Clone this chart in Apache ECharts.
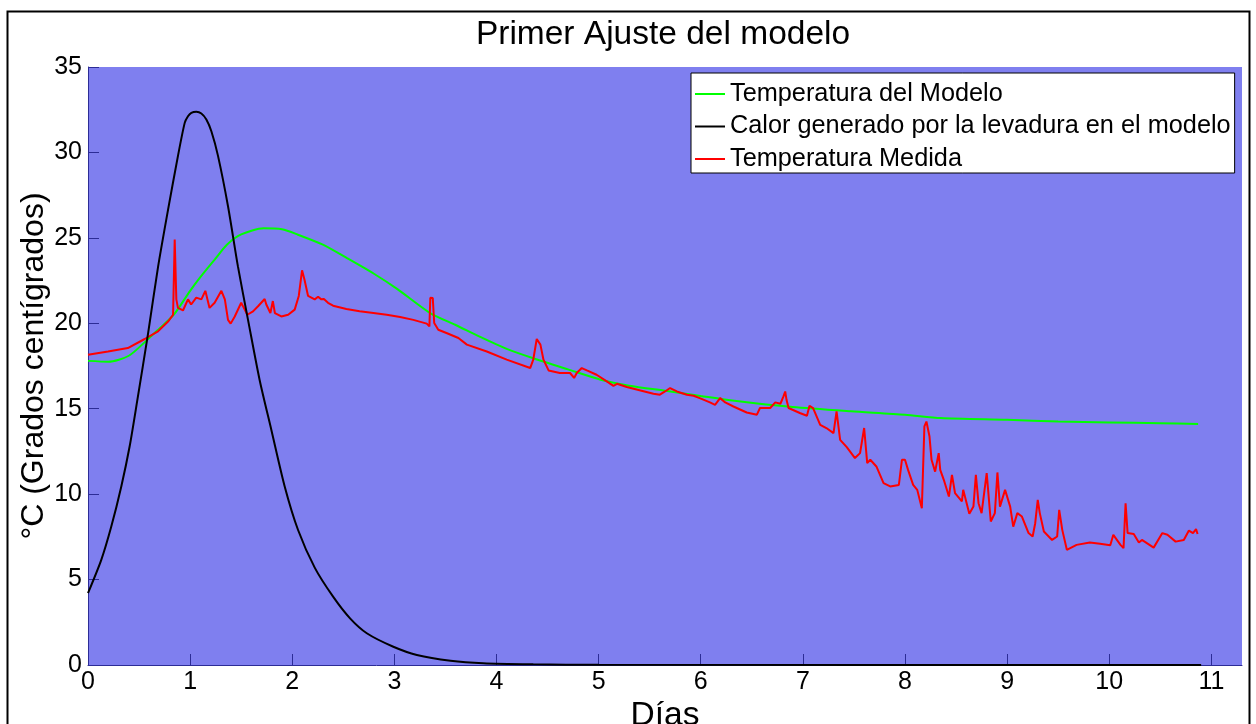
<!DOCTYPE html>
<html>
<head>
<meta charset="utf-8">
<script src="https://cdn.jsdelivr.net/npm/echarts@6/dist/echarts.min.js"></script>
<style>
html,body{margin:0;padding:0;background:#fff;}
#chart{width:1256px;height:724px;}
</style>
</head>
<body>
<div id="chart"></div>
<script>
// ---- data ----
const xTicks = [0,1,2,3,4,5,6,7,8,9,10,11];
const yTicks = [0,5,10,15,20,25,30,35];

const greenDays = [0,0.2,0.4,0.575,0.7,0.84,1.0,1.1,1.25,1.36,1.5,1.72,1.9,2.05,2.3,2.54,2.8,3.03,3.35,3.6,3.84,4.1,4.36,4.7,5.02,5.3,5.67,6.0,6.33,6.9,7.47,8.0,8.35,9.0,9.5,10.0,10.5,10.87];
const greenTemp = [17.8,17.75,18.1,19.0,19.7,20.5,21.9,22.7,23.8,24.6,25.2,25.56,25.5,25.2,24.6,23.8,22.9,22.0,20.6,19.9,19.2,18.5,17.95,17.3,16.7,16.35,16.04,15.75,15.47,15.1,14.85,14.65,14.45,14.35,14.25,14.2,14.15,14.1];

const blackDays = [0,0.13,0.228,0.326,0.408,0.483,0.588,0.686,0.784,0.881,0.947,0.979,1.012,1.061,1.11,1.159,1.208,1.273,1.371,1.469,1.567,1.68,1.795,1.926,2.057,2.22,2.40,2.566,2.73,2.99,3.22,3.55,3.87,4.36,5.0,10.9];
const blackHeat = [4.2,6.15,8.1,10.45,12.8,15.5,19.4,23.3,26.65,29.8,31.73,32.12,32.32,32.38,32.28,31.93,31.24,29.8,26.85,23.3,20.2,16.7,13.77,10.45,7.9,5.7,4.0,2.73,1.86,1.07,0.59,0.25,0.1,0.04,0.01,0];

const redDays = [0,0.196,0.39,0.555,0.686,0.784,0.833,0.845,0.849,0.857,0.865,0.881,0.93,0.979,1.01,1.06,1.11,1.149,1.19,1.24,1.306,1.34,1.371,1.397,1.437,1.50,1.535,1.56,1.616,1.665,1.73,1.746,1.786,1.81,1.83,1.893,1.96,2.024,2.064,2.096,2.12,2.155,2.22,2.253,2.285,2.31,2.35,2.40,2.53,2.66,2.795,2.925,3.056,3.186,3.317,3.343,3.352,3.376,3.39,3.43,3.51,3.627,3.71,3.905,4.10,4.33,4.36,4.394,4.43,4.46,4.51,4.62,4.72,4.76,4.786,4.835,4.885,4.98,5.08,5.145,5.18,5.276,5.41,5.537,5.60,5.65,5.70,5.766,5.864,5.93,5.99,6.09,6.14,6.19,6.24,6.32,6.45,6.55,6.58,6.68,6.73,6.78,6.81,6.827,6.84,6.86,6.97,7.04,7.065,7.10,7.17,7.23,7.30,7.33,7.365,7.43,7.51,7.56,7.60,7.63,7.66,7.72,7.79,7.855,7.94,7.97,8.00,8.03,8.08,8.12,8.165,8.19,8.21,8.24,8.26,8.295,8.33,8.345,8.38,8.43,8.46,8.49,8.557,8.57,8.63,8.67,8.694,8.72,8.75,8.80,8.84,8.88,8.905,8.93,8.98,8.998,9.03,9.06,9.10,9.145,9.21,9.25,9.275,9.30,9.32,9.36,9.44,9.49,9.51,9.54,9.585,9.68,9.81,9.91,10.01,10.04,10.11,10.14,10.16,10.18,10.24,10.29,10.32,10.435,10.52,10.57,10.65,10.73,10.78,10.82,10.85,10.865];
const redTemp = [18.16,18.35,18.55,19.08,19.53,20.1,20.5,20.6,24.9,24.8,21.4,20.9,20.75,21.4,21.1,21.5,21.4,21.9,20.9,21.2,21.9,21.4,20.2,19.98,20.4,21.2,20.8,20.5,20.7,21.0,21.42,21.1,20.6,21.3,20.6,20.4,20.5,20.8,21.6,23.1,22.55,21.6,21.4,21.55,21.4,21.42,21.2,21.03,20.84,20.7,20.6,20.5,20.37,20.2,19.98,19.82,21.5,21.48,20.02,19.62,19.43,19.14,18.75,18.35,17.87,17.38,17.87,19.08,18.75,17.87,17.24,17.09,17.09,16.8,17.09,17.38,17.24,16.99,16.6,16.34,16.46,16.27,16.07,15.88,15.82,16.01,16.21,16.01,15.82,15.76,15.62,15.37,15.23,15.62,15.37,15.13,14.78,14.65,15.04,15.04,15.37,15.29,15.72,16.01,15.52,15.04,14.75,14.59,15.17,15.04,14.06,13.87,13.57,14.84,13.18,12.75,12.11,12.4,13.87,11.82,12.01,11.62,10.64,10.45,10.54,12.01,12.01,11.42,10.54,10.25,9.18,13.96,14.25,13.37,12.01,11.32,12.4,11.42,10.84,9.86,11.13,10.06,9.57,10.25,8.85,9.27,11.13,9.47,8.89,11.23,8.4,8.89,11.27,9.27,10.25,10.35,9.27,8.1,8.89,8.69,7.72,7.52,8.3,9.67,8.89,7.81,7.32,7.52,9.08,7.91,6.74,7.03,7.17,7.09,7.01,7.62,7.03,6.84,9.47,7.72,7.67,7.17,7.32,6.87,7.72,7.62,7.22,7.32,7.87,7.72,7.95,7.67];

const zip = (a, b) => a.map((v, i) => [v, b[i]]);
const FONT = "'Liberation Sans', Arial, sans-serif";
const axisBlue = '#2c2c96';

const chart = echarts.init(document.getElementById('chart'), null, {renderer: 'canvas'});
chart.setOption({
  animation: false,
  backgroundColor: '#ffffff',
  title: {
    text: 'Primer Ajuste del modelo',
    left: 658, top: 13, textAlign: 'center',
    textStyle: {fontFamily: FONT, fontSize: 33.5, fontWeight: 'normal', color: '#000'}
  },
  graphic: [{
    type: 'rect', shape: {x: 7.5, y: 11.5, width: 1242, height: 800},
    style: {fill: 'none', stroke: '#000', lineWidth: 2}, silent: true, z: 100
  }],
  legend: {
    orient: 'vertical', left: 691, top: 73,
    padding: [7, 4, 0, 4], itemGap: 4.5,
    backgroundColor: '#ffffff', borderColor: '#000', borderWidth: 1, borderRadius: 0,
    itemWidth: 30, itemHeight: 2, icon: 'rect',
    textStyle: {fontFamily: FONT, fontSize: 25.3, color: '#000', lineHeight: 28},
    data: ['Temperatura del Modelo', 'Calor generado por la levadura en el modelo', 'Temperatura Medida']
  },
  grid: {left: 88, top: 67, right: 14, bottom: 59, show: true, backgroundColor: '#7f7fef', borderWidth: 0, outerBoundsMode: 'none', containLabel: false},
  xAxis: {
    type: 'value', min: 0, max: 11.3,
    name: 'Días', nameLocation: 'middle', nameGap: 34, nameMoveOverlap: false,
    nameTextStyle: {fontFamily: FONT, fontSize: 33.5, color: '#000'},
    axisLine: {show: true, lineStyle: {color: axisBlue, width: 1}},
    axisTick: {show: true, inside: true, length: 11, customValues: xTicks, lineStyle: {color: axisBlue}},
    axisLabel: {customValues: xTicks, fontFamily: FONT, fontSize: 25, color: '#000', margin: 5},
    splitLine: {show: false}
  },
  yAxis: {
    type: 'value', min: 0, max: 35, interval: 5,
    name: '°C (Grados centígrados)', nameLocation: 'middle', nameGap: 38, nameMoveOverlap: false,
    nameTextStyle: {fontFamily: FONT, fontSize: 32, color: '#000'},
    axisLine: {show: true, lineStyle: {color: axisBlue, width: 1}},
    axisTick: {show: true, inside: true, length: 11, customValues: yTicks, lineStyle: {color: axisBlue}},
    axisLabel: {customValues: yTicks, fontFamily: FONT, fontSize: 25, color: '#000', margin: 6},
    splitLine: {show: false}
  },
  series: [
    {
      name: 'Temperatura del Modelo', type: 'line', data: zip(greenDays, greenTemp),
      smooth: 0.25, showSymbol: false, z: 2,
      lineStyle: {color: '#00ff00', width: 2}, itemStyle: {color: '#00ff00'}
    },
    {
      name: 'Calor generado por la levadura en el modelo', type: 'line', data: zip(blackDays, blackHeat),
      smooth: 0.25, showSymbol: false, z: 4,
      lineStyle: {color: '#000000', width: 2}, itemStyle: {color: '#000000'}
    },
    {
      name: 'Temperatura Medida', type: 'line', data: zip(redDays, redTemp),
      smooth: false, showSymbol: false, z: 3,
      lineStyle: {color: '#ff0000', width: 2}, itemStyle: {color: '#ff0000'}
    }
  ]
});
</script>
</body>
</html>
